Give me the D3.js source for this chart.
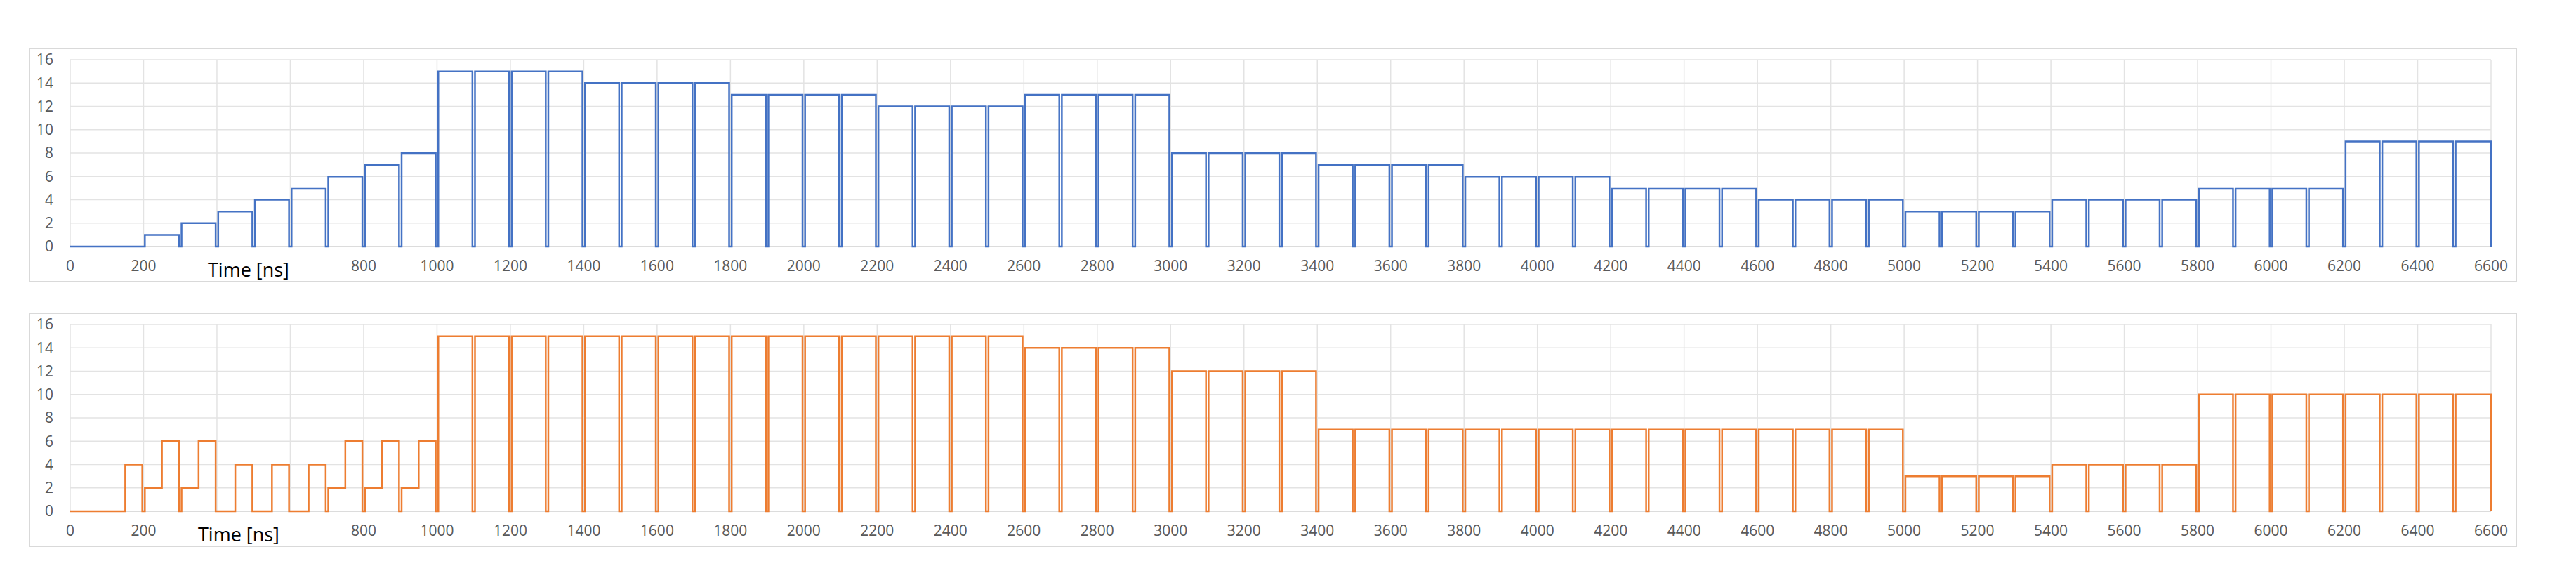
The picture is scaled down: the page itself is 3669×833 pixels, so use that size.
<!DOCTYPE html>
<html>
<head>
<meta charset="utf-8">
<script src="https://cdn.jsdelivr.net/npm/d3@7"></script>
<style>
  body { margin: 0; background: #fff; }
  svg text { font-family: "Open Sans", "DejaVu Sans", sans-serif; }
</style>
</head>
<body>
<svg id="chart" width="3669" height="833"></svg>
<script>
// Top signal: one value per 100 ns slot, 0 .. 6600
var topLevels = [0, 0, 1, 2, 3, 4, 5, 6, 7, 8,
  15, 15, 15, 15, 14, 14, 14, 14, 13, 13, 13, 13, 12, 12, 12, 12, 13, 13, 13, 13,
  8, 8, 8, 8, 7, 7, 7, 7, 6, 6, 6, 6, 5, 5, 5, 5, 4, 4, 4, 4,
  3, 3, 3, 3, 4, 4, 4, 4, 5, 5, 5, 5, 9, 9, 9, 9];

// Bottom signal: 50 ns slots from 0 to 1000, then 100 ns slots to 6600
var bottomEarly = [0, 0, 0, 4, 2, 6, 2, 6, 0, 4, 0, 4, 0, 4, 2, 6, 2, 6, 2, 6];
var bottomLate = [15, 15, 15, 15, 15, 15, 15, 15, 15, 15, 15, 15, 15, 15, 15, 15,
  14, 14, 14, 14, 12, 12, 12, 12,
  7, 7, 7, 7, 7, 7, 7, 7, 7, 7, 7, 7, 7, 7, 7, 7,
  3, 3, 3, 3, 4, 4, 4, 4, 10, 10, 10, 10, 10, 10, 10, 10];

var xTicks = d3.range(0, 6601, 200);
var yTicks = d3.range(0, 17, 2);
var hiddenX = [400, 600]; // covered by the "Time [ns]" label

var svg = d3.select("#chart");

// turn a list of [start, end, value] slots into a point list,
// dipping to 0 briefly on every 100 ns boundary
function toPoints(slots) {
  var pts = [];
  var gap = 7;
  slots.forEach(function (s, i) {
    var start = s[0], end = s[1], v = s[2];
    var dipBefore = i > 0 && start % 100 === 0 && start >= 200;
    var dipAfter = i < slots.length - 1 && end % 100 === 0 && end >= 200;
    var a = dipBefore ? start + gap / 2 : start;
    var b = dipAfter ? end - gap / 2 : end;
    if (dipBefore) pts.push([a, 0]);
    pts.push([a, v]);
    pts.push([b, v]);
    if (dipAfter) pts.push([b, 0]);
  });
  pts.push([slots[slots.length - 1][1], 0]);
  return pts;
}

var topSlots = topLevels.map(function (v, i) { return [i * 100, i * 100 + 100, v]; });
var bottomSlots = bottomEarly.map(function (v, i) { return [i * 50, i * 50 + 50, v]; })
  .concat(bottomLate.map(function (v, i) { return [1000 + i * 100, 1100 + i * 100, v]; }));

function drawPanel(top, slots, color) {
  var frame = { x: 42, y: top, w: 3542, h: 332 };
  var plotTop = top + 16, plotBottom = top + 282;

  var x = d3.scaleLinear().domain([0, 6600]).range([100, 3548]);
  var y = d3.scaleLinear().domain([0, 16]).range([plotBottom, plotTop]);

  var g = svg.append("g");

  g.append("rect")
    .attr("x", frame.x).attr("y", frame.y)
    .attr("width", frame.w).attr("height", frame.h)
    .attr("fill", "#fff").attr("stroke", "#d9d9d9").attr("stroke-width", 2);

  // grid
  g.selectAll(".vg").data(xTicks).enter().append("line")
    .attr("x1", d => x(d)).attr("x2", d => x(d))
    .attr("y1", plotTop).attr("y2", plotBottom)
    .attr("stroke", "#e3e3e3").attr("stroke-width", 1.5);
  g.selectAll(".hg").data(yTicks).enter().append("line")
    .attr("x1", x(0)).attr("x2", x(6600))
    .attr("y1", d => y(d)).attr("y2", d => y(d))
    .attr("stroke", d => d === 0 ? "#d0d0d0" : "#e3e3e3").attr("stroke-width", 1.5);

  // y labels
  g.selectAll(".yl").data(yTicks).enter().append("text")
    .attr("x", 76).attr("y", d => y(d))
    .attr("dy", "0.35em").attr("text-anchor", "end")
    .attr("font-size", 21).attr("fill", "#595959")
    .text(d => d);

  // x labels
  g.selectAll(".xl").data(xTicks.filter(d => hiddenX.indexOf(d) < 0)).enter().append("text")
    .attr("x", d => x(d)).attr("y", top + 317)
    .attr("text-anchor", "middle")
    .attr("font-size", 21).attr("fill", "#595959")
    .text(d => d);

  // signal
  var line = d3.line().x(d => x(d[0])).y(d => y(d[1]));
  g.append("path")
    .datum(toPoints(slots))
    .attr("d", line)
    .attr("fill", "none")
    .attr("stroke", color)
    .attr("stroke-width", 2.5)
    .attr("stroke-linejoin", "miter");

  return { x: x, g: g };
}

var p1 = drawPanel(69, topSlots, "#4472C4");
var p2 = drawPanel(446, bottomSlots, "#ED7D31");

// axis title boxes
p1.g.append("text")
  .attr("x", 296).attr("y", 394)
  .attr("font-size", 27).attr("fill", "#000")
  .text("Time [ns]");
p2.g.append("text")
  .attr("x", 282).attr("y", 771)
  .attr("font-size", 27).attr("fill", "#000")
  .text("Time [ns]");
</script>
</body>
</html>
